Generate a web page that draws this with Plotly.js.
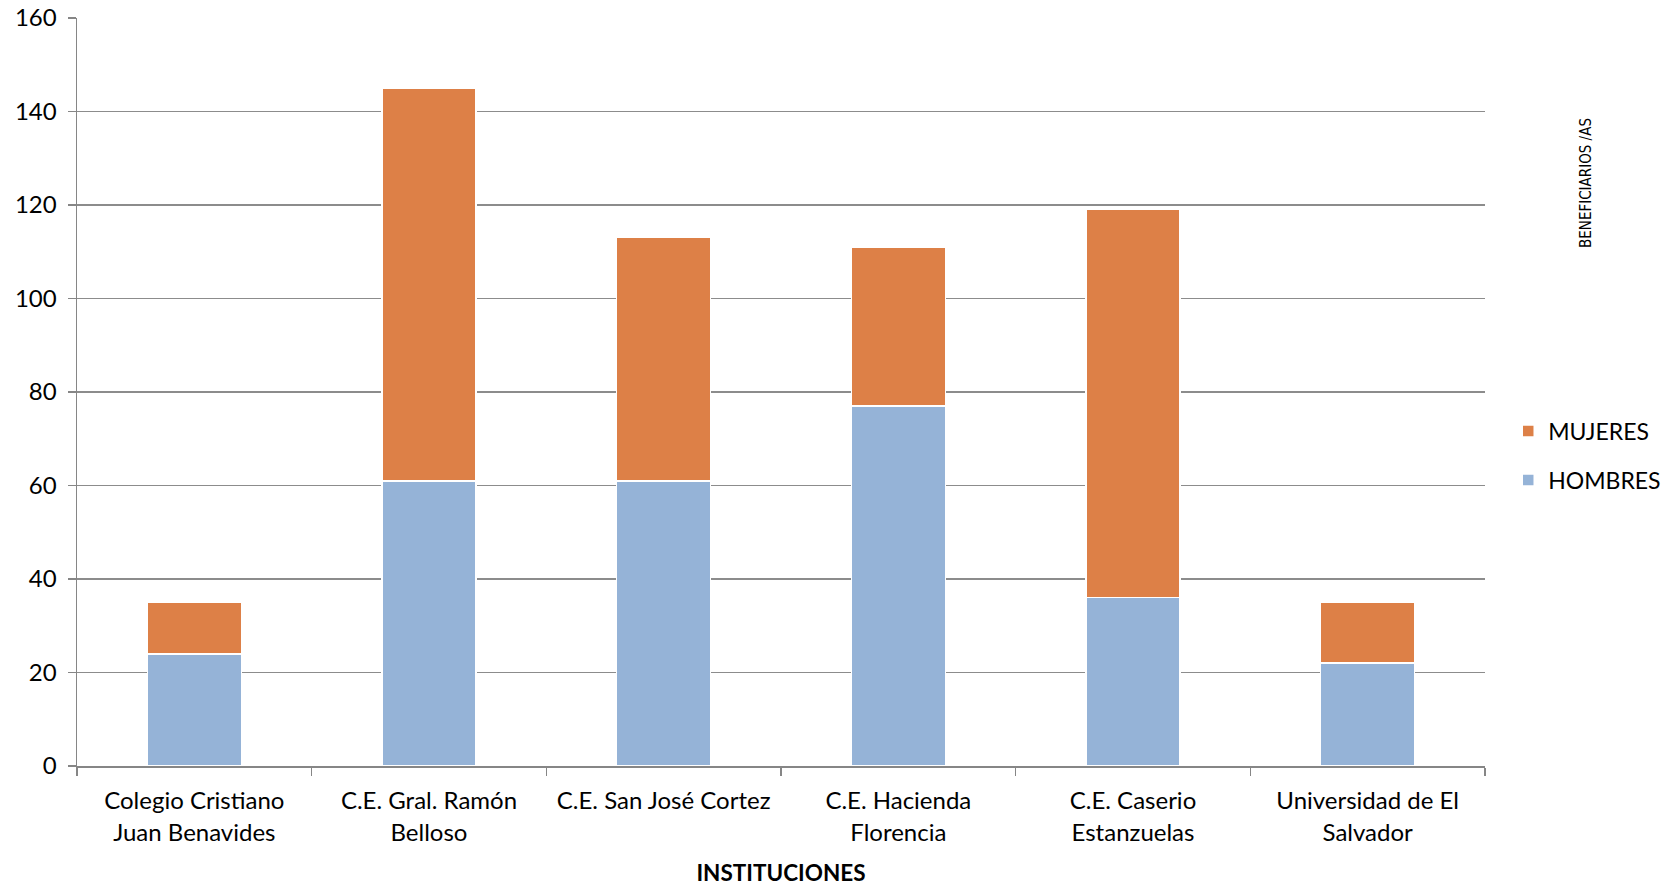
<!DOCTYPE html>
<html>
<head>
<meta charset="utf-8">
<script src="https://cdn.plot.ly/plotly-3.0.1.min.js"></script>
<style>html,body{margin:0;padding:0;background:#fff;}#chart{width:1673px;height:886px;}</style>
</head>
<body>
<div id="chart"></div>
<script>
const categories = [
  "Colegio Cristiano<br>Juan Benavides",
  "C.E. Gral. Ramón<br>Belloso",
  "C.E. San José Cortez",
  "C.E. Hacienda<br>Florencia",
  "C.E. Caserio<br>Estanzuelas",
  "Universidad de El<br>Salvador"
];
const hombres = [24, 61, 61, 77, 36, 22];
const mujeres = [11, 84, 52, 34, 83, 13];
const yTicks = [0, 20, 40, 60, 80, 100, 120, 140, 160];

const font = "Lato, 'Open Sans', sans-serif";

const traces = [
  {
    type: "bar", name: "HOMBRES", x: categories, y: hombres,
    marker: { color: "#95B3D7", line: { color: "#ffffff", width: 1.5 } },
    legend: "legend2", hoverinfo: "none"
  },
  {
    type: "bar", name: "MUJERES", x: categories, y: mujeres,
    marker: { color: "#DD8047", line: { color: "#ffffff", width: 1.5 } },
    legend: "legend", hoverinfo: "none"
  }
];

const layout = {
  width: 1673, height: 886,
  margin: { l: 77, r: 188, t: 18, b: 120, autoexpand: false },
  paper_bgcolor: "#ffffff", plot_bgcolor: "#ffffff",
  barmode: "stack", bargap: 0.6,
  font: { family: font, size: 24, color: "#000000" },
  xaxis: {
    type: "category",
    tickson: "boundaries", ticks: "outside", ticklen: 8, tickcolor: "#868686", tickwidth: 1.5,
    showline: true, linecolor: "#868686", linewidth: 1.5,
    showgrid: false,
    tickfont: { family: font, size: 24, color: "#000" },
    ticklabelstandoff: 13,
    title: { text: "<b>INSTITUCIONES</b>", font: { family: font, size: 22.5, color: "#000" }, standoff: 21 }
  },
  yaxis: {
    range: [0, 160], tickvals: yTicks, ticktext: yTicks.map(String),
    ticks: "outside", ticklen: 8, tickcolor: "#868686", tickwidth: 1.5,
    showline: true, linecolor: "#868686", linewidth: 1.5,
    showgrid: true, gridcolor: "#8c8c8c", gridwidth: 1.5,
    zeroline: false,
    tickfont: { family: font, size: 24, color: "#000" },
    ticklabelstandoff: 6
  },
  legend: {
    x: 1.0165, xanchor: "left", xref: "paper",
    y: (766 - 431) / 748, yanchor: "middle", yref: "paper",
    font: { family: font, size: 23, color: "#000" },
    bgcolor: "rgba(0,0,0,0)", itemwidth: 30
  },
  legend2: {
    x: 1.0165, xanchor: "left", xref: "paper",
    y: (766 - 480) / 748, yanchor: "middle", yref: "paper",
    font: { family: font, size: 23, color: "#000" },
    bgcolor: "rgba(0,0,0,0)", itemwidth: 30
  },
  annotations: [{
    text: "BENEFICIARIOS /AS", textangle: -90,
    xref: "paper", yref: "paper",
    x: (1586 - 77) / 1408, y: (766 - 183) / 748,
    xanchor: "center", yanchor: "middle", showarrow: false,
    font: { family: "'Liberation Sans Narrow', 'DejaVu Sans Condensed', sans-serif", size: 15, color: "#000" }
  }],
  showlegend: true
};

Plotly.newPlot("chart", traces, layout, { displayModeBar: false, staticPlot: true });
</script>
</body>
</html>
